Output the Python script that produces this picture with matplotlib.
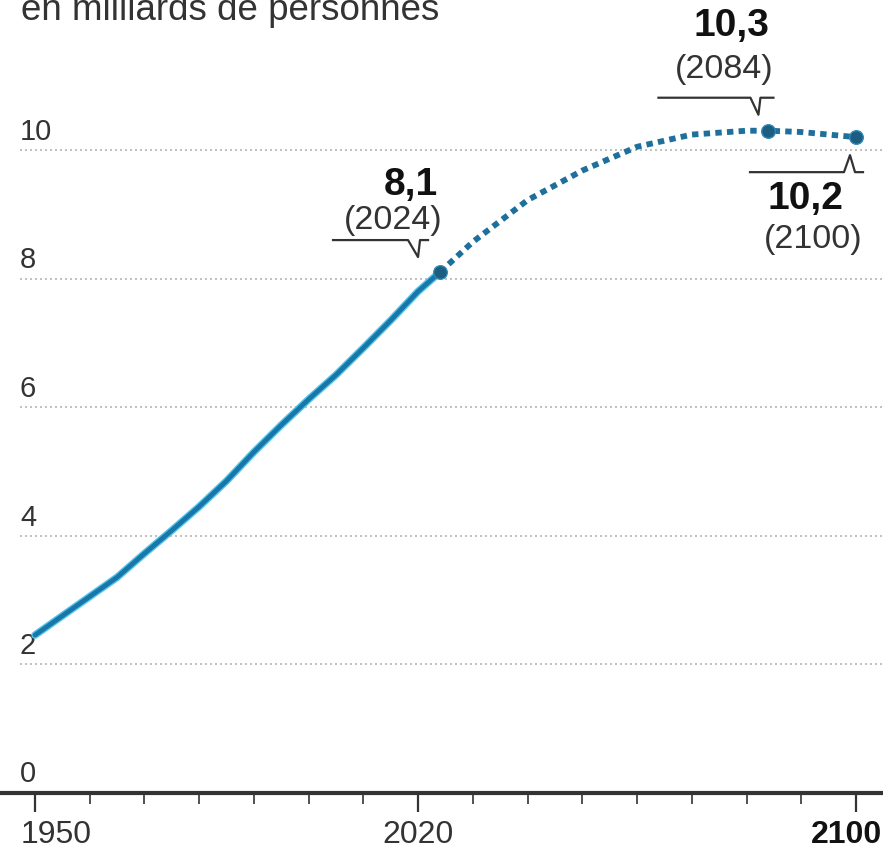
import matplotlib
matplotlib.use("Agg")
import matplotlib.pyplot as plt
import matplotlib.transforms as mtrans
from matplotlib.ticker import FixedLocator, NullFormatter

plt.rcParams["font.family"] = ["Liberation Sans", "DejaVu Sans"]

# Observed (billions)
years_obs = [1950, 1955, 1960, 1965, 1970, 1975, 1980, 1985, 1990, 1995, 2000, 2005, 2010, 2015, 2020, 2024]
pop_obs = [2.45, 2.75, 3.05, 3.35, 3.72, 4.08, 4.45, 4.85, 5.30, 5.72, 6.12, 6.50, 6.92, 7.35, 7.80, 8.1]
# Projection (billions)
years_proj = [2024, 2030, 2040, 2050, 2060, 2070, 2080, 2084, 2090, 2100]
pop_proj = [8.1, 8.57, 9.22, 9.68, 10.05, 10.24, 10.3, 10.3, 10.28, 10.2]

# Highlighted points
hl_years = [2024, 2084, 2100]
hl_values = [8.1, 10.3, 10.2]
hl_labels = ["8,1", "10,3", "10,2"]
hl_sub = ["(2024)", "(2084)", "(2100)"]

y_ticks = [0, 2, 4, 6, 8, 10]
x_major = [1950, 2020, 2100]
x_minor = list(range(1950, 2101, 10))

W, H = 883, 856
fig = plt.figure(figsize=(W / 100, H / 100), dpi=100)
ax = fig.add_axes([0, 0, 1, 1])

px_per_year = (856 - 35) / 150.0
px_per_unit = (792.5 - 150) / 10.0
x0 = 1950 - 35 / px_per_year
x1 = 1950 + (W - 35) / px_per_year
y0 = -(H - 792.5) / px_per_unit
y1 = 792.5 / px_per_unit
ax.set_xlim(x0, x1)
ax.set_ylim(y0, y1)


def dx(px):
    return px / px_per_year


def dy(px):
    return px / px_per_unit


# grid lines
for v in y_ticks[1:]:
    ax.plot([x0 + dx(20), x1], [v, v], color="#b5b5b5", lw=1.2,
            linestyle=(0, (1.2, 1.8)), zorder=1)
for v in y_ticks:
    ax.text(x0 + dx(20), v + dy(4), str(v), fontsize=21, color="#333333",
            ha="left", va="bottom", zorder=3)

# data lines
ax.plot(years_obs, pop_obs, color="#52c4ea", lw=5.4, solid_capstyle="round", zorder=4)
ax.plot(years_obs, pop_obs, color="#1877a8", lw=3.4, solid_capstyle="round", zorder=5)
ax.plot(years_proj, pop_proj, color="#1f6f9c", lw=4.2, linestyle=(0, (1.1, 0.9)), zorder=5)
ax.scatter(hl_years, hl_values, s=95, color="#1d5d80", zorder=6, edgecolor="#2f87b5", linewidth=1)

# spines / ticks
for s in ["top", "right", "left"]:
    ax.spines[s].set_visible(False)
ax.spines["bottom"].set_position(("data", 0))
ax.spines["bottom"].set_color("#333333")
ax.spines["bottom"].set_linewidth(3)
ax.set_yticks([])
ax.xaxis.set_major_locator(FixedLocator(x_major))
ax.xaxis.set_minor_locator(FixedLocator(x_minor))
ax.xaxis.set_minor_formatter(NullFormatter())
ax.set_xticks(x_major)
ax.set_xticklabels([str(v) for v in x_major])
ax.tick_params(axis="x", which="major", length=14, width=1.6, color="#333333",
               labelsize=23, labelcolor="#333333", pad=6, direction="out")
ax.tick_params(axis="x", which="minor", length=8, width=1.2, color="#333333", direction="out")
labels = ax.get_xticklabels()
labels[-1].set_fontweight("bold")
labels[-1].set_color("#111111")
# shift first/last label so they stay inside the picture
labels[0].set_transform(labels[0].get_transform() + mtrans.ScaledTranslation(21 / 100, 0, fig.dpi_scale_trans))
labels[-1].set_transform(labels[-1].get_transform() + mtrans.ScaledTranslation(-9 / 100, 0, fig.dpi_scale_trans))

# title (partly clipped at top, as in the source)
fig.text(21 / W, 1 - 20 / H, "en milliards de personnes", fontsize=26.5, color="#333333",
         ha="left", va="baseline")

# annotations
lc = "#333333"
# 8,1 (2024)
px, py = hl_years[0], hl_values[0]
ax.text(px - dx(2), py + dy(77), hl_labels[0], fontsize=28, fontweight="bold",
        color="#111111", ha="right", va="baseline")
ax.text(px + dx(2), py + dy(43), hl_sub[0], fontsize=24.5, color="#333333",
        ha="right", va="baseline")
yb = py + dy(32)
ax.plot([px - dx(107), px - dx(32), px - dx(22), px - dx(20), px - dx(12)],
        [yb, yb, yb - dy(17), yb, yb], color=lc, lw=1.6, zorder=3)
# 10,3 (2084)
px, py = hl_years[1], hl_values[1]
ax.text(px + dx(1), py + dy(95), hl_labels[1], fontsize=28, fontweight="bold",
        color="#111111", ha="right", va="baseline")
ax.text(px + dx(5), py + dy(53), hl_sub[1], fontsize=24.5, color="#333333",
        ha="right", va="baseline")
yb = py + dy(33)
ax.plot([px - dx(110), px - dx(18), px - dx(10), px - dx(8), px + dx(5)],
        [yb, yb, yb - dy(17), yb, yb], color=lc, lw=1.6, zorder=3)
# 10,2 (2100)
px, py = hl_years[2], hl_values[2]
yb = py - dy(35)
ax.plot([px - dx(106), px - dx(12), px - dx(6), px - dx(1), px + dx(7)],
        [yb, yb, yb + dy(17), yb, yb], color=lc, lw=1.6, zorder=3)
ax.text(px - dx(13), py - dy(72), hl_labels[2], fontsize=28, fontweight="bold",
        color="#111111", ha="right", va="baseline")
ax.text(px + dx(7), py - dy(111), hl_sub[2], fontsize=24.5, color="#333333",
        ha="right", va="baseline")

fig.savefig("out.png", dpi=100)
